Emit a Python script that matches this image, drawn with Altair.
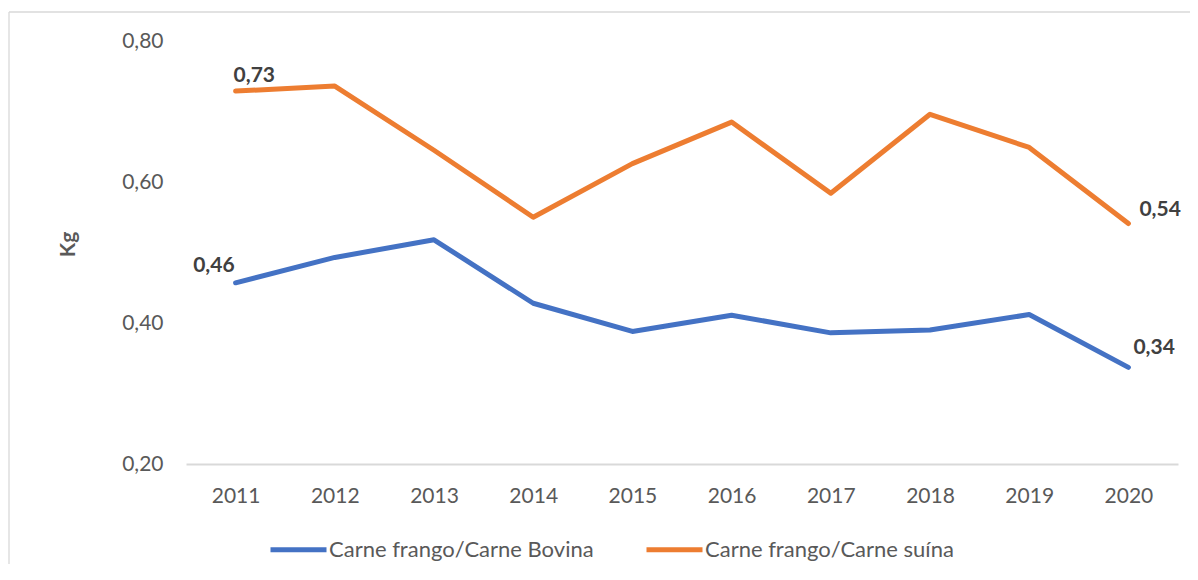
import altair as alt
import pandas as pd

years = ["2011", "2012", "2013", "2014", "2015", "2016", "2017", "2018", "2019", "2020"]
bovina = [0.457, 0.493, 0.518, 0.428, 0.388, 0.411, 0.386, 0.390, 0.412, 0.337]
suina = [0.729, 0.736, 0.645, 0.550, 0.626, 0.685, 0.584, 0.696, 0.649, 0.541]
series_names = ["Carne frango/Carne Bovina", "Carne frango/Carne suína"]
series_colors = ["#4472C4", "#ED7D31"]
y_ticks = [0.2, 0.4, 0.6, 0.8]
y_title = "Kg"

rows = []
for name, vals in zip(series_names, [bovina, suina]):
    for yr, v in zip(years, vals):
        rows.append({"ano": yr, "serie": name, "valor": v,
                     "rotulo": f"{v:.2f}".replace(".", ",")})
df = pd.DataFrame(rows)

FONT = "Lato"
GRAY = "#595959"

base = alt.Chart(df)

x_enc = alt.X("ano:O", sort=years,
              scale=alt.Scale(domain=years, padding=0.5),
              axis=alt.Axis(title=None, labelAngle=0, ticks=False,
                            domainColor="#d9d9d9", domainWidth=2,
                            labelFont=FONT, labelFontSize=21, labelColor=GRAY,
                            labelPadding=21))
y_enc = alt.Y("valor:Q",
              scale=alt.Scale(domain=[0.2, 0.8], nice=False, zero=False),
              axis=alt.Axis(values=y_ticks, grid=False, domain=False, ticks=False,
                            labelExpr="replace(format(datum.value, '.2f'), '.', ',')",
                            labelFont=FONT, labelFontSize=21, labelColor=GRAY,
                            labelPadding=23,
                            title=y_title, titleFont=FONT, titleFontSize=21,
                            titleFontWeight="bold", titleColor=GRAY,
                            titleX=-118, titleY=203, titleAngle=270,
                            titleAlign="center", titleBaseline="middle"))

lines = base.mark_line(strokeWidth=5, strokeCap="round", strokeJoin="round").encode(
    x=x_enc,
    y=y_enc,
    color=alt.Color("serie:N",
                    scale=alt.Scale(domain=series_names, range=series_colors),
                    legend=alt.Legend(orient="none", legendX=82, legendY=478,
                                      direction="horizontal", title=None,
                                      symbolType="stroke", symbolSize=3136,
                                      symbolStrokeWidth=5,
                                      labelFont=FONT, labelFontSize=22,
                                      labelColor=GRAY, labelOffset=0,
                                      columnPadding=42, labelLimit=400,
                                      padding=0)),
)

def label_layer(year, serie, align, dx, dy):
    return base.transform_filter(
        (alt.datum.ano == year) & (alt.datum.serie == serie)
    ).mark_text(font=FONT, fontSize=21, fontWeight="bold", color="#404040",
                align=align, baseline="middle", dx=dx, dy=dy).encode(
        x=alt.X("ano:O", sort=years), y=alt.Y("valor:Q"), text="rotulo:N")

labels = [
    label_layer("2011", series_names[1], "left", -2, -15),
    label_layer("2011", series_names[0], "right", -1, -17),
    label_layer("2020", series_names[1], "left", 11, -14),
    label_layer("2020", series_names[0], "left", 5, -19),
]

frame_df = pd.DataFrame({"f": [0]})
frame_top = alt.Chart(frame_df).mark_rule(color="#d9d9d9", strokeWidth=1.3).encode(
    x=alt.value(-177), x2=alt.value(1100), y=alt.value(-29), y2=alt.value(-29))
frame_left = alt.Chart(frame_df).mark_rule(color="#d9d9d9", strokeWidth=1.3).encode(
    x=alt.value(-177), x2=alt.value(-177), y=alt.value(-29), y2=alt.value(700))

chart = alt.layer(frame_top, frame_left, lines, *labels).properties(
    width=992, height=423,
    autosize=alt.AutoSizeParams(type="none"),
    padding={"left": 178, "top": 33, "right": 12, "bottom": 100},
    background="white",
).configure_view(stroke=None)

chart.save("out.html", embed_options={"renderer": "svg", "actions": False})
